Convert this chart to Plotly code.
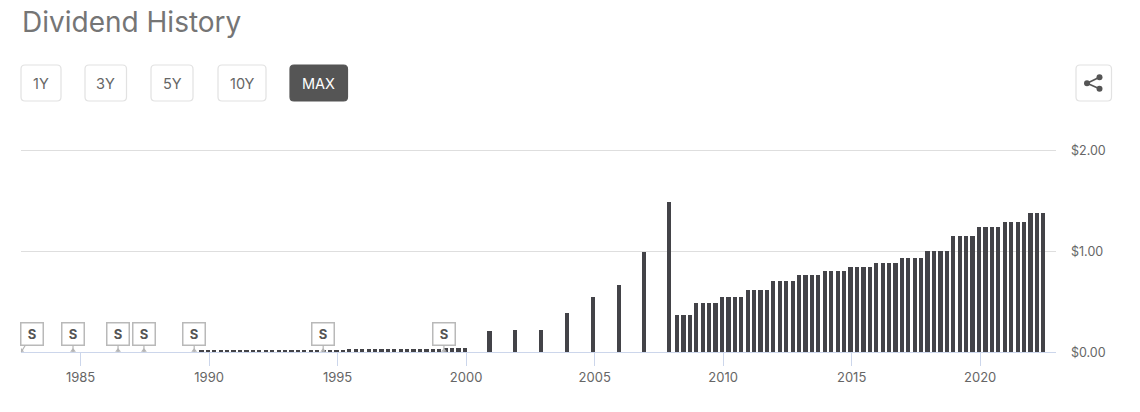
import plotly.graph_objects as go

W, H = 1140, 412
L, R, T, B = 21, 1056, 149, 352

# Annual payments, 2000-2007
annual_dates = ["2000-11-30", "2001-11-30", "2002-12-04", "2003-12-04", "2004-12-04", "2005-12-08", "2006-12-08", "2007-11-26"]
annual_values = [0.21, 0.22, 0.22, 0.39, 0.545, 0.66, 0.99, 1.49]

# Quarterly payments
early_values = [
    0.012, 0.012,
    0.012, 0.012, 0.012, 0.012,
    0.012, 0.012, 0.012, 0.012,
    0.012, 0.012, 0.012, 0.012,
    0.012, 0.012, 0.012, 0.012,
    0.012, 0.012, 0.012, 0.012,
    0.012, 0.025, 0.025, 0.025,
    0.025, 0.025, 0.025, 0.025,
    0.025, 0.025, 0.025, 0.025,
    0.025, 0.025, 0.03, 0.03,
    0.04, 0.04, 0.04, 0.04,
]
late_values = [
    0.365, 0.365, 0.365,
    0.49, 0.49, 0.49, 0.49,
    0.545, 0.545, 0.545, 0.545,
    0.61, 0.61, 0.61, 0.61,
    0.70, 0.70, 0.70, 0.70,
    0.76, 0.76, 0.76, 0.76,
    0.80, 0.80, 0.80, 0.80,
    0.84, 0.84, 0.84, 0.84,
    0.88, 0.88, 0.88, 0.88,
    0.93, 0.93, 0.93, 0.93,
    1.00, 1.00, 1.00, 1.00,
    1.145, 1.145, 1.145, 1.145,
    1.235, 1.235, 1.235, 1.235,
    1.285, 1.285, 1.285, 1.285,
    1.38, 1.38, 1.38,
]
quarter_days = ["03-17", "06-17", "09-15", "12-15"]


def quarter_dates(first_year, first_q, n):
    out = []
    y, q = first_year, first_q
    for _ in range(n):
        out.append(f"{y}-{quarter_days[q]}")
        q += 1
        if q == 4:
            y, q = y + 1, 0
    return out


early_dates = quarter_dates(1989, 2, len(early_values))
late_dates = quarter_dates(2008, 0, len(late_values))

split_dates = ["1982-09-10", "1984-09-15", "1986-06-17", "1987-06-20", "1989-06-03", "1994-06-10", "1999-02-20"]
split_offsets = [11, 0, 0, 0, 0, 0, 0]

range_labels = ["1Y", "3Y", "5Y", "10Y", "MAX"]
range_boxes = [(21, 61), (85, 126.5), (151, 193), (218, 266), (290, 347.5)]
FONT = "Inter, 'Liberation Sans', sans-serif"


def px(x):
    return (x - L) / (R - L)


def py(y):
    return (B - y) / (B - T)


def rrect(x0, y0, x1, y1, r, fill, line, lw=1):
    p = (f"M {px(x0 + r)} {py(y0)} L {px(x1 - r)} {py(y0)} Q {px(x1)} {py(y0)} {px(x1)} {py(y0 + r)} "
         f"L {px(x1)} {py(y1 - r)} Q {px(x1)} {py(y1)} {px(x1 - r)} {py(y1)} "
         f"L {px(x0 + r)} {py(y1)} Q {px(x0)} {py(y1)} {px(x0)} {py(y1 - r)} "
         f"L {px(x0)} {py(y0 + r)} Q {px(x0)} {py(y0)} {px(x0 + r)} {py(y0)} Z")
    return dict(type="path", xref="paper", yref="paper", path=p, fillcolor=fill, line=dict(color=line, width=lw))


BAR_W = 5.2e9
fig = go.Figure(
    go.Bar(
        x=early_dates + annual_dates + late_dates,
        y=early_values + annual_values + late_values,
        width=BAR_W,
        marker=dict(color="#434348", line=dict(width=0)),
        hoverinfo="x+y",
    )
)
# small base under each split flag
fig.add_trace(go.Scatter(
    x=split_dates, y=[0.016] * len(split_dates), mode="markers",
    marker=dict(symbol="triangle-up", size=5, color="#b5b5b5", line=dict(width=0)),
    hoverinfo="skip",
))

shapes = []
annotations = []
for label, (x0, x1) in zip(range_labels, range_boxes):
    active = label == "MAX"
    shapes.append(rrect(x0, 65, x1, 101, 4, "#555555" if active else "#ffffff", "#555555" if active else "#e2e2e2", 1.2))
    annotations.append(dict(xref="paper", yref="paper", x=px((x0 + x1) / 2), y=py(83.5), text=label, showarrow=False,
                            xanchor="center", yanchor="middle",
                            font=dict(family=FONT, size=14.5, color="#ffffff" if active else "#666666")))

# share button
shapes.append(rrect(1076, 65, 1111.5, 101, 4, "#ffffff", "#e2e2e2", 1.2))
for a, b in [((1087, 83.3), (1099.5, 77.3)), ((1087, 83.3), (1099.5, 88.8))]:
    shapes.append(dict(type="line", xref="paper", yref="paper", x0=px(a[0]), y0=py(a[1]), x1=px(b[0]), y1=py(b[1]),
                       line=dict(color="#555555", width=1.6)))
for (cx, cy) in [(1087, 83.3), (1099.5, 77.3), (1099.5, 88.8)]:
    shapes.append(dict(type="circle", xref="paper", yref="paper", x0=px(cx - 3), x1=px(cx + 3), y0=py(cy + 3), y1=py(cy - 3),
                       fillcolor="#555555", line=dict(width=0)))

annotations.append(dict(xref="paper", yref="paper", x=px(19.5), y=py(22), text="Dividend History", showarrow=False,
                        xanchor="left", yanchor="middle", font=dict(family=FONT, size=28, color="#757575")))

for d, off in zip(split_dates, split_offsets):
    annotations.append(dict(x=d, y=0, xref="x", yref="y", text="<b>S</b>", ax=off, ay=-18,
                            showarrow=True, arrowhead=0, arrowwidth=1.2, arrowcolor="#b5b5b5", standoff=0,
                            width=21, height=21, bgcolor="#ffffff", bordercolor="#b9b9b9", borderwidth=1.5, borderpad=0,
                            font=dict(family=FONT, size=13, color="#555555")))

fig.update_layout(
    width=W, height=H, margin=dict(l=L, r=W - R, t=T, b=H - B, autoexpand=False),
    paper_bgcolor="#ffffff", plot_bgcolor="#ffffff", showlegend=False, bargap=0,
    shapes=shapes, annotations=annotations,
    font=dict(family=FONT, color="#666666", size=13),
)
fig.update_xaxes(type="date", range=["1982-09-07", "2022-12-14"], tick0="1985-01-01", dtick="M60", tickformat="%Y",
                 ticks="outside", ticklen=13, tickcolor="#ccd6eb", tickwidth=1, showgrid=False, showline=True,
                 linecolor="#ccd6eb", linewidth=1, zeroline=False, tickfont=dict(size=13, color="#666666"))
fig.update_yaxes(side="right", range=[0, 2.01], tickvals=[0, 1, 2], ticktext=["$0.00", "$1.00", "$2.00"], showgrid=True,
                 gridcolor="#dedede", gridwidth=1, zeroline=False, showline=False, ticks="", ticklabelstandoff=14,
                 ticklabelshift=1, tickfont=dict(size=12.5, color="#666666"))

fig.write_html("out.html", config={"displayModeBar": False},
               post_script="document.body.style.margin='0';document.documentElement.style.overflow='hidden';")
